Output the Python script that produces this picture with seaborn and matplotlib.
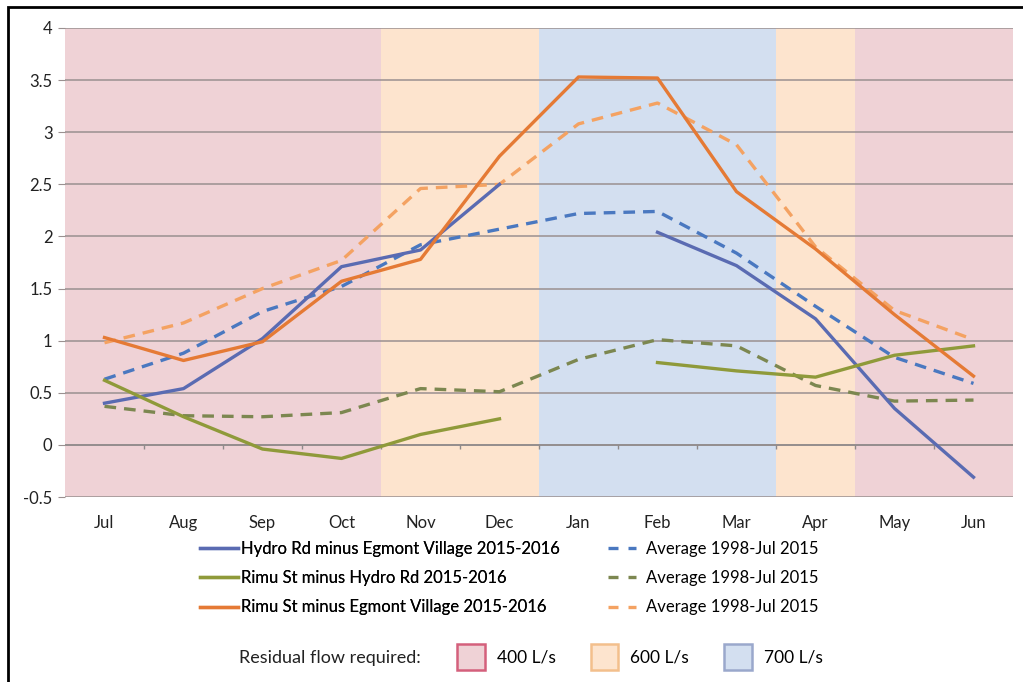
import numpy as np
import pandas as pd
import matplotlib
matplotlib.use("Agg")
import matplotlib.pyplot as plt
from matplotlib.patches import Patch, Rectangle
from matplotlib.lines import Line2D
import seaborn as sns

months = ["Jul", "Aug", "Sep", "Oct", "Nov", "Dec", "Jan", "Feb", "Mar", "Apr", "May", "Jun"]

# 2015-2016 differences (gap in Jan for the two Hydro Rd series)
hydro_egmont = [0.40, 0.54, 1.02, 1.71, 1.87, 2.50, np.nan, 2.04, 1.72, 1.21, 0.35, -0.31]
rimu_hydro = [0.62, 0.27, -0.04, -0.13, 0.10, 0.25, np.nan, 0.79, 0.71, 0.65, 0.86, 0.95]
rimu_egmont = [1.03, 0.81, 0.99, 1.57, 1.78, 2.77, 3.53, 3.52, 2.43, 1.88, 1.25, 0.66]

# averages 1998 - Jul 2015
avg_hydro_egmont = [0.63, 0.88, 1.28, 1.52, 1.92, 2.07, 2.22, 2.24, 1.84, 1.33, 0.84, 0.59]
avg_rimu_hydro = [0.37, 0.28, 0.27, 0.31, 0.54, 0.51, 0.82, 1.01, 0.95, 0.57, 0.42, 0.43]
avg_rimu_egmont = [0.98, 1.17, 1.50, 1.77, 2.46, 2.50, 3.08, 3.28, 2.88, 1.90, 1.29, 1.01]

# residual flow required per month (L/s)
flow_required = [400, 400, 400, 400, 600, 600, 700, 700, 700, 600, 400, 400]

flow_colors = {400: "#efd2d6", 600: "#fde4ce", 700: "#d3dff0"}
flow_edges = {400: "#d4607c", 600: "#f3bf8c", 700: "#9aa8cc"}

blue, green, orange = "#5a6bb2", "#8f9a3a", "#e57a35"
blue_d, green_d, orange_d = "#4a78c0", "#7c8750", "#f4a262"

plt.rcParams["font.family"] = ["Lato", "DejaVu Sans"]

fig = plt.figure(figsize=(10.23, 6.82), dpi=100)
ax = fig.add_axes([65 / 1023, 1 - 497 / 682, 948 / 1023, 469 / 682])

x = np.arange(len(months))

# shaded residual-flow bands
for i, f in enumerate(flow_required):
    ax.axvspan(i - 0.5, i + 0.5, color=flow_colors[f], lw=0, zorder=0)

for v in np.arange(-0.5, 4.01, 0.5):
    ax.axhline(v, color="#9a9090", lw=1.1, zorder=1)
ax.axhline(0, color="#8f8a8a", lw=1.1, zorder=1)
ax.vlines(x[:-1] + 0.5, -0.04, 0, color="#8f8a8a", lw=1, zorder=1)


def draw(values, color, dashed=False):
    df = pd.DataFrame({"x": x, "y": values})
    ok = df["y"].notna()
    run = (~ok).cumsum()
    for _, seg in df[ok].groupby(run[ok]):
        sns.lineplot(data=seg, x="x", y="y", ax=ax, color=color, lw=2.4,
                     estimator=None, sort=False, zorder=3,
                     linestyle=(0, (3.5, 2.4)) if dashed else "-")


draw(avg_hydro_egmont, blue_d, True)
draw(avg_rimu_hydro, green_d, True)
draw(avg_rimu_egmont, orange_d, True)
draw(hydro_egmont, blue)
draw(rimu_hydro, green)
draw(rimu_egmont, orange)

ax.set_xlim(-0.5, len(months) - 0.5)
ax.set_ylim(-0.5, 4)
ax.set_xticks(x)
ax.set_xticklabels(months)
ax.set_yticks(np.arange(-0.5, 4.01, 0.5))
ax.set_yticklabels([f"{v:g}" for v in np.arange(-0.5, 4.01, 0.5)])
ax.tick_params(axis="x", length=0, pad=13, labelsize=12, colors="#222222")
ax.tick_params(axis="y", length=5, color="#9a9090", pad=4, labelsize=12, labelcolor="#222222")
ax.set_xlabel("")
ax.set_ylabel("")
for s in ax.spines.values():
    s.set_visible(False)

# legend for the lines: solid series in one column, averages in the other
solid_handles = [Line2D([], [], color=c, lw=2.4) for c in (blue, green, orange)]
solid_labels = [
    "Hydro Rd minus Egmont Village 2015-2016",
    "Rimu St minus Hydro Rd 2015-2016",
    "Rimu St minus Egmont Village 2015-2016",
]
avg_handles = [Line2D([], [], color=c, lw=2.4, linestyle=(0, (3, 3)))
               for c in (blue_d, green_d, orange_d)]
avg_labels = ["Average 1998-Jul 2015"] * 3

leg1 = fig.legend(solid_handles, solid_labels, loc="center left",
                  bbox_to_anchor=(200 / 1023, 1 - 578 / 682), frameon=False,
                  fontsize=12, handlelength=2.3, handletextpad=0.15,
                  labelspacing=0.8, borderpad=0, borderaxespad=0)
fig.legend(avg_handles, avg_labels, loc="center left",
           bbox_to_anchor=(608 / 1023, 1 - 578 / 682), frameon=False,
           fontsize=12, handlelength=1.7, handletextpad=0.6,
           labelspacing=0.8, borderpad=0, borderaxespad=0)
fig.add_artist(leg1)

# legend for residual flow bands
fig.text(239 / 1023, 1 - 658 / 682, "Residual flow required:", fontsize=13,
         va="center", ha="left", color="#222222")
flow_handles = [Patch(facecolor=flow_colors[f], edgecolor=flow_edges[f], lw=1.8)
                for f in (400, 600, 700)]
fig.legend(flow_handles, ["400 L/s", "600 L/s", "700 L/s"], ncol=3, loc="center left",
           bbox_to_anchor=(457 / 1023, 1 - 657 / 682), frameon=False, fontsize=12.5,
           handlelength=1.6, handleheight=1.9, handletextpad=0.7, columnspacing=2.0,
           borderpad=0, borderaxespad=0)

# outer frame (only top and left visible in the crop)
fig.add_artist(Rectangle((8 / 1023, -0.05), 1.1, 1 - 7 / 682 + 0.05,
                         transform=fig.transFigure, fill=False, lw=2, ec="black"))

fig.savefig("out.png", dpi=100)
